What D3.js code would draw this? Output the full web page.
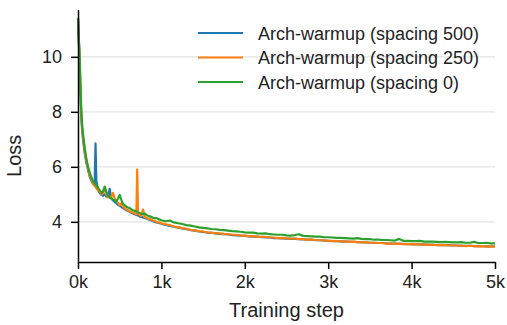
<!DOCTYPE html>
<html>
<head>
<meta charset="utf-8">
<script src="https://cdn.jsdelivr.net/npm/d3@7"></script>
<style>
  html, body { margin: 0; padding: 0; background: #fff; }
  svg { display: block; font-family: 'Liberation Sans', Arial, sans-serif; }
  .axis path, .axis line { stroke: #000; stroke-width: 1.5; }
  .axis text { fill: #222; font-size: 18px; }
  .grid line { stroke: #e4e4e4; stroke-width: 1.2; }
  .label { fill: #222; font-size: 20px; }
  .legend text { fill: #222; font-size: 18px; }
</style>
</head>
<body>
<svg id="chart" width="507" height="325"></svg>
<script>
// DATA
const steps = [
  0, 10, 20, 30, 40, 50, 60,
  80, 100, 120, 140, 160, 180, 200,
  210,
  220, 240, 260, 280, 300, 320, 340, 360, 380, 400, 420, 440, 460, 480, 500,
  520, 540, 560, 580, 600, 620, 640, 660, 680, 700,
  710,
  720, 740, 760, 780, 800, 820, 840, 860, 880, 900, 920, 940, 960, 980, 1000,
  1050, 1100, 1150, 1200, 1250, 1300, 1350, 1400, 1450, 1500,
  1550, 1600, 1650, 1700, 1750, 1800, 1850, 1900, 1950, 2000,
  2050, 2100, 2150, 2200, 2250, 2300, 2350, 2400, 2450, 2500,
  2550, 2600, 2650, 2700, 2750, 2800, 2850, 2900, 2950, 3000,
  3050, 3100, 3150, 3200, 3250, 3300, 3350, 3400, 3450, 3500,
  3550, 3600, 3650, 3700, 3750, 3800, 3850, 3900, 3950, 4000,
  4050, 4100, 4150, 4200, 4250, 4300, 4350, 4400, 4450, 4500,
  4550, 4600, 4650, 4700, 4750, 4800, 4850, 4900, 4950, 5000
];

const lossSpacing500 = [
  11.4, 10.55, 9.8, 8.6, 7.8, 7.3, 7.0,
  6.5, 6.15, 5.9, 5.65, 5.5, 5.38, 5.42,
  6.85,
  5.5, 5.15, 5.05, 4.98, 4.95, 5.0, 4.92, 4.9, 5.2, 4.85, 4.78, 4.72, 4.68, 4.62, 4.58,
  4.55, 4.5, 4.46, 4.42, 4.4, 4.36, 4.33, 4.3, 4.28, 4.25,
  4.24,
  4.23, 4.2, 4.18, 4.16, 4.14, 4.12, 4.1, 4.07, 4.05, 4.02, 4.0, 3.98, 3.97, 3.95, 3.93,
  3.89, 3.85, 3.82, 3.79, 3.76, 3.73, 3.7, 3.68, 3.65, 3.63,
  3.61, 3.6, 3.58, 3.56, 3.55, 3.54, 3.52, 3.51, 3.5, 3.49,
  3.47, 3.46, 3.46, 3.44, 3.43, 3.43, 3.41, 3.41, 3.4, 3.39,
  3.38, 3.38, 3.37, 3.36, 3.35, 3.35, 3.33, 3.33, 3.32, 3.31,
  3.3, 3.3, 3.29, 3.28, 3.28, 3.27, 3.26, 3.26, 3.25, 3.24,
  3.24, 3.23, 3.23, 3.22, 3.21, 3.21, 3.2, 3.2, 3.19, 3.19,
  3.18, 3.18, 3.17, 3.17, 3.16, 3.16, 3.15, 3.15, 3.15, 3.14,
  3.14, 3.13, 3.13, 3.13, 3.12, 3.12, 3.12, 3.11, 3.11, 3.11
];

const lossSpacing250 = [
  11.4, 10.6, 9.9, 8.7, 7.9, 7.4, 7.1,
  6.6, 6.2, 5.95, 5.7, 5.55, 5.4, 5.3,
  5.28,
  5.22, 5.15, 5.1, 5.0, 5.05, 5.22, 5.0, 4.9, 4.88, 4.92, 5.05, 4.85, 4.75, 4.7, 4.6,
  4.68, 4.55, 4.5, 4.45, 4.42, 4.38, 4.36, 4.33, 4.3, 4.28,
  5.9,
  4.3, 4.25, 4.22, 4.45, 4.18, 4.15, 4.12, 4.1, 4.08, 4.05, 4.03, 4.0, 3.98, 3.97, 3.95,
  3.91, 3.88, 3.83, 3.81, 3.77, 3.75, 3.71, 3.69, 3.66, 3.65,
  3.62, 3.61, 3.59, 3.58, 3.56, 3.55, 3.53, 3.53, 3.5, 3.5,
  3.48, 3.48, 3.46, 3.45, 3.45, 3.43, 3.43, 3.41, 3.42, 3.4,
  3.39, 3.39, 3.37, 3.37, 3.35, 3.36, 3.34, 3.33, 3.33, 3.31,
  3.31, 3.3, 3.29, 3.29, 3.27, 3.28, 3.26, 3.25, 3.26, 3.24,
  3.24, 3.23, 3.23, 3.21, 3.22, 3.2, 3.21, 3.19, 3.2, 3.18,
  3.19, 3.17, 3.18, 3.16, 3.17, 3.15, 3.16, 3.15, 3.14, 3.15,
  3.13, 3.14, 3.12, 3.13, 3.12, 3.11, 3.12, 3.1, 3.11, 3.1
];

const lossSpacing0 = [
  11.4, 10.7, 10.0, 8.9, 8.0, 7.5, 7.2,
  6.7, 6.3, 6.0, 5.8, 5.62, 5.48, 5.4,
  5.36,
  5.32, 5.25, 5.15, 5.05, 5.1, 5.28, 5.1, 4.95, 4.9, 4.85, 4.8, 4.78, 4.75, 4.85, 4.98,
  4.8, 4.65, 4.6, 4.55, 4.52, 4.5, 4.45, 4.42, 4.4, 4.38,
  4.36,
  4.34, 4.32, 4.3, 4.28, 4.3, 4.25, 4.22, 4.2, 4.18, 4.15, 4.13, 4.14, 4.1, 4.08, 4.06,
  4.02, 4.05, 3.98, 3.95, 3.92, 3.88, 3.86, 3.83, 3.8, 3.78,
  3.76, 3.74, 3.73, 3.71, 3.7, 3.68, 3.66, 3.65, 3.64, 3.62,
  3.61, 3.61, 3.58, 3.57, 3.58, 3.55, 3.54, 3.53, 3.53, 3.51,
  3.5, 3.52, 3.55, 3.49, 3.48, 3.47, 3.46, 3.46, 3.44, 3.44,
  3.43, 3.42, 3.42, 3.41, 3.4, 3.39, 3.41, 3.38, 3.37, 3.37,
  3.35, 3.35, 3.34, 3.34, 3.33, 3.32, 3.38, 3.31, 3.31, 3.3,
  3.3, 3.31, 3.28, 3.28, 3.28, 3.27, 3.26, 3.27, 3.26, 3.25,
  3.25, 3.26, 3.24, 3.24, 3.27, 3.23, 3.23, 3.24, 3.22, 3.22
];

const seriesNames = ['Arch-warmup (spacing 500)', 'Arch-warmup (spacing 250)', 'Arch-warmup (spacing 0)'];
const seriesColors = ['#1f77b4', '#ff7f0e', '#2ca02c'];
const xTicks = [0, 1000, 2000, 3000, 4000, 5000];
const xTickLabels = ['0k', '1k', '2k', '3k', '4k', '5k'];
const yTicks = [4, 6, 8, 10];

// SETUP
const svg = d3.select('svg'),
  margin = { top: 9.5, right: 12, bottom: 63, left: 78 },
  width = +svg.attr('width') - margin.left - margin.right,
  height = +svg.attr('height') - margin.top - margin.bottom;

const x = d3.scaleLinear().domain([0, 5000]).range([0, width]);
const y = d3.scaleLinear().domain([2.54, 11.72]).range([height, 0]);

const g = svg.append('g')
  .attr('transform', 'translate(' + margin.left + ',' + margin.top + ')');

// GRID
g.append('g')
  .attr('class', 'grid')
  .selectAll('line')
  .data(yTicks)
  .enter()
  .append('line')
  .attr('x1', 0)
  .attr('x2', width)
  .attr('y1', d => y(d))
  .attr('y2', d => y(d));

// LINES
const series = [lossSpacing500, lossSpacing250, lossSpacing0];
const line = d3.line()
  .x((d, i) => x(steps[i]))
  .y(d => y(d));

g.append('g')
  .selectAll('path')
  .data(series)
  .enter()
  .append('path')
  .attr('fill', 'none')
  .attr('stroke', (d, i) => seriesColors[i])
  .attr('stroke-width', 2.2)
  .attr('stroke-linejoin', 'round')
  .attr('d', line);

// AXES
g.append('g')
  .attr('class', 'axis axis--x')
  .attr('transform', 'translate(0,' + height + ')')
  .call(d3.axisBottom(x).tickValues(xTicks)
    .tickFormat((d, i) => xTickLabels[i])
    .tickSizeInner(7).tickSizeOuter(0).tickPadding(6));

g.append('g')
  .attr('class', 'axis axis--y')
  .call(d3.axisLeft(y).tickValues(yTicks)
    .tickSizeInner(7).tickSizeOuter(0).tickPadding(9));

g.selectAll('.axis text').attr('font-family', null).attr('font-size', null);

// LABELS
g.append('text')
  .attr('class', 'label')
  .attr('x', width / 2)
  .attr('y', height + 55)
  .attr('text-anchor', 'middle')
  .text('Training step');

g.append('text')
  .attr('class', 'label')
  .attr('transform', 'rotate(-90)')
  .attr('x', -(y(6.4)))
  .attr('y', -57)
  .attr('text-anchor', 'middle')
  .text('Loss');

// LEGEND
const legend = svg.append('g').attr('class', 'legend');
const items = legend.selectAll('g')
  .data(seriesNames)
  .enter()
  .append('g')
  .attr('transform', (d, i) => 'translate(198,' + (33 + i * 24.5) + ')');
items.append('line')
  .attr('x1', 0)
  .attr('x2', 45)
  .attr('stroke', (d, i) => seriesColors[i])
  .attr('stroke-width', 2);
items.append('text')
  .attr('x', 60)
  .attr('y', 6.5)
  .text(d => d);
</script>
</body>
</html>
